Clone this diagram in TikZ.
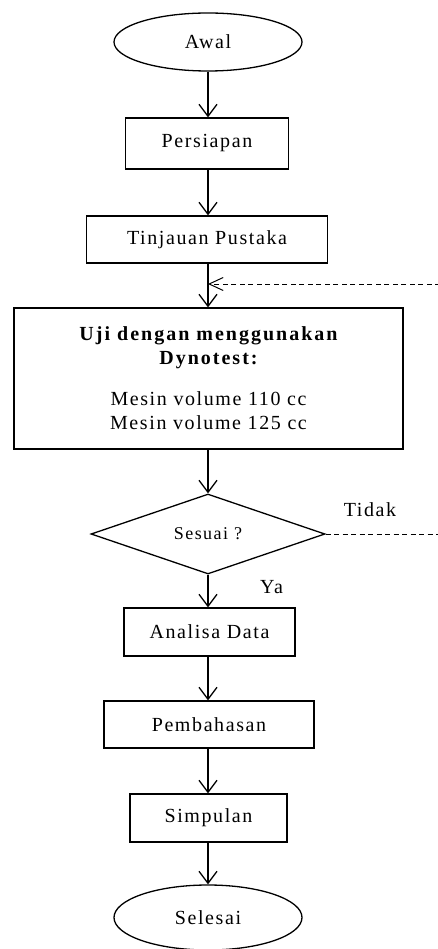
\documentclass[tikz,border=0pt]{standalone}
\usepackage{fontspec}
\setmainfont{Liberation Serif}[LetterSpace=8]
\usetikzlibrary{shapes.geometric,arrows.meta}
\begin{document}
\begin{tikzpicture}[x=1pt,y=1pt,
  every node/.style={font=\fontsize{20}{24}\selectfont, text=black},
  boxnode/.style={draw, line width=1.3pt, rectangle, inner sep=0pt},
  ovalnode/.style={draw, line width=1.3pt, ellipse, inner sep=0pt},
  decnode/.style={draw, line width=1.3pt, diamond, inner sep=0pt, aspect=2.925},
  flow/.style={line width=1.3pt, -{Straight Barb[length=12pt,width=18pt,line width=1.3pt]}},
  back/.style={line width=1pt, dash pattern=on 5pt off 3.5pt, -{Straight Barb[length=14pt,width=13pt,line width=1pt]}},
  backline/.style={line width=1pt, dash pattern=on 5pt off 3.5pt}
]
\useasboundingbox (0,0) rectangle (438,-949);
\node[ovalnode, minimum width=188pt, minimum height=58pt] (awal) at (208,-42) {Awal};
\node[boxnode, minimum width=163pt, minimum height=51pt] (pers) at (207,-143.5) {Persiapan};
\node[boxnode, minimum width=241pt, minimum height=47pt] (tinj) at (207,-239.5) {Tinjauan Pustaka};
\node[boxnode, minimum width=389pt, minimum height=141pt, align=center] (uji) at (208.5,-378.5)
  {{\bfseries\addfontfeatures{LetterSpace=10} Uji dengan menggunakan}\\{\bfseries\addfontfeatures{LetterSpace=10} Dynotest:}\\[17pt]Mesin volume 110 cc\\Mesin volume 125 cc};
\node[decnode, minimum width=234pt, minimum height=80pt, font=\fontsize{18}{21}\selectfont] (dia) at (208,-534) {Sesuai ?};
\node[boxnode, minimum width=171pt, minimum height=48pt] (anal) at (209.5,-632) {Analisa Data};
\node[boxnode, minimum width=210pt, minimum height=47pt] (pemb) at (209,-724.5) {Pembahasan};
\node[boxnode, minimum width=157pt, minimum height=48pt] (simp) at (208.5,-818) {Simpulan};
\node[ovalnode, minimum width=188pt, minimum height=65pt] (sel) at (208,-917.5) {Selesai};
\node (tidak) at (370,-510) {Tidak};
\node (ya) at (271.5,-587) {Ya};
\coordinate (join) at (208,-284);
\coordinate (fbin) at (440,-284);
\coordinate (fbout) at (440,-534);
\draw[flow] (awal.south) -- (awal.south |- pers.north);
\draw[flow] (join |- pers.south) -- (join |- tinj.north);
\draw[flow] (join |- tinj.south) -- (join |- uji.north);
\draw[flow] (join |- uji.south) -- (dia.north);
\draw[flow] (dia.south) -- (dia.south |- anal.north);
\draw[flow] (join |- anal.south) -- (join |- pemb.north);
\draw[flow] (join |- pemb.south) -- (join |- simp.north);
\draw[flow] (join |- simp.south) -- (sel.north);
\draw[back] (fbin) -- (join);
\draw[backline] (dia.east) -- (fbout);
\end{tikzpicture}
\end{document}
